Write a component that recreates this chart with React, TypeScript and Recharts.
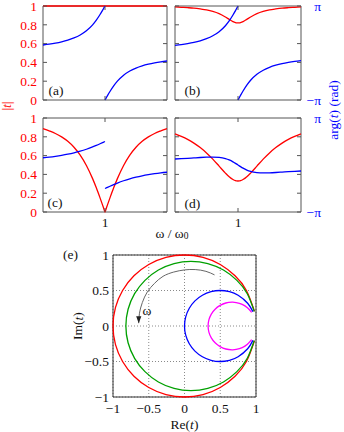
import React from 'react';
import { LineChart, Line, XAxis, YAxis, ReferenceArea, CartesianGrid } from 'recharts';

const FONT = '"Liberation Serif", "Times New Roman", serif';
const FS = 13.5;
const RED = '#ff0000';
const BLUE = '#0000ff';
const GREEN = '#00a000';
const MAGENTA = '#ff00ff';
const GRAY = '#666666';
const FRAME = '#555555';
const PI = Math.PI;

// frequency axis, omega / omega0
const omega = [0.9, 0.91, 0.92, 0.93, 0.94, 0.95, 0.96, 0.97, 0.98, 0.986, 0.992, 0.996, 0.998, 1.0,
  1.002, 1.004, 1.008, 1.014, 1.02, 1.03, 1.04, 1.05, 1.06, 1.07, 1.08, 1.09, 1.1];

// |t| per panel
const magA = [1, 1, 1, 1, 1, 1, 1, 1, 1, 1, 1, 1, 1, 1, 1, 1, 1, 1, 1, 1, 1, 1, 1, 1, 1, 1, 1];
const magB = [0.99, 0.986, 0.982, 0.977, 0.969, 0.959, 0.943, 0.919, 0.883, 0.858, 0.834, 0.824, 0.821, 0.82,
  0.821, 0.824, 0.834, 0.858, 0.883, 0.919, 0.943, 0.959, 0.969, 0.977, 0.982, 0.986, 0.99];
const magC = [0.888, 0.863, 0.835, 0.799, 0.752, 0.689, 0.605, 0.495, 0.355, 0.257, 0.15, 0.076, 0.038, 0,
  0.038, 0.076, 0.15, 0.257, 0.355, 0.495, 0.605, 0.689, 0.752, 0.799, 0.835, 0.863, 0.888];
const magD = [0.832, 0.805, 0.773, 0.733, 0.685, 0.628, 0.562, 0.488, 0.414, 0.375, 0.346, 0.334, 0.331, 0.33,
  0.331, 0.334, 0.346, 0.375, 0.414, 0.488, 0.562, 0.628, 0.685, 0.733, 0.773, 0.805, 0.832];

// arg(t) in rad: branch below resonance, branch above resonance
const phaseALeft = [0.536, 0.592, 0.661, 0.748, 0.859, 1.005, 1.204, 1.483, 1.882, 2.199, 2.575, 2.852, 2.996, 3.1415];
const phaseARight = [-3.1415, -2.996, -2.852, -2.575, -2.199, -1.882, -1.483, -1.204, -1.005, -0.859, -0.748, -0.661, -0.592, -0.536];
const phaseBLeft = [0.509, 0.562, 0.628, 0.71, 0.817, 0.957, 1.15, 1.424, 1.824, 2.147, 2.54, 2.833, 2.987, 3.1415];
const phaseBRight = [-3.1415, -2.987, -2.833, -2.54, -2.147, -1.824, -1.424, -1.15, -0.957, -0.817, -0.71, -0.628, -0.562, -0.509];
const phaseCLeft = [0.485, 0.529, 0.582, 0.645, 0.72, 0.811, 0.921, 1.053, 1.208, 1.311, 1.42, 1.495, 1.533, 1.571];
const phaseCRight = [-1.571, -1.533, -1.495, -1.42, -1.311, -1.208, -1.053, -0.921, -0.811, -0.72, -0.645, -0.582, -0.529, -0.485];
const phaseDLeft = [0.4, 0.422, 0.446, 0.474, 0.501, 0.521, 0.528, 0.505, 0.426, 0.338, 0.212, 0.11, 0.056, 0];
const phaseDRight = [0, -0.056, -0.11, -0.212, -0.338, -0.426, -0.505, -0.528, -0.521, -0.501, -0.474, -0.446, -0.422, -0.4];

const magTicks = [0, 0.2, 0.4, 0.6, 0.8, 1];
const magTickLabels = ['0', '0.2', '0.4', '0.6', '0.8', '1'];
const phaseTicks = [-PI, PI];
const phaseTickLabels = ['\u2212\u03c0', '\u03c0'];
const omegaTicks = [1];
const omegaTickLabels = ['1'];

// complex plane curves (Re, Im)
const redCurve = [[0.978, 0.208], [0.866, 0.5], [0.707, 0.707], [0.5, 0.866], [0.259, 0.966], [0, 1], [-0.259, 0.966],
  [-0.5, 0.866], [-0.707, 0.707], [-0.866, 0.5], [-0.966, 0.259], [-1, 0], [-0.966, -0.259], [-0.866, -0.5],
  [-0.707, -0.707], [-0.5, -0.866], [-0.259, -0.966], [0, -1], [0.259, -0.966], [0.5, -0.866], [0.707, -0.707],
  [0.866, -0.5], [0.978, -0.208]];
const greenCurve = [[0.976, 0.205], [0.878, 0.455], [0.733, 0.643], [0.545, 0.788], [0.326, 0.879], [0.09, 0.91],
  [-0.146, 0.879], [-0.365, 0.788], [-0.553, 0.643], [-0.698, 0.455], [-0.789, 0.236], [-0.82, 0], [-0.789, -0.236],
  [-0.698, -0.455], [-0.553, -0.643], [-0.365, -0.788], [-0.146, -0.879], [0.09, -0.91], [0.326, -0.879],
  [0.545, -0.788], [0.733, -0.643], [0.878, -0.455], [0.976, -0.205]];
const blueCurve = [[0.957, 0.203], [0.883, 0.321], [0.75, 0.433], [0.629, 0.483], [0.5, 0.5], [0.371, 0.483],
  [0.25, 0.433], [0.146, 0.354], [0.067, 0.25], [0.017, 0.129], [0, 0], [0.017, -0.129], [0.067, -0.25],
  [0.146, -0.354], [0.25, -0.433], [0.371, -0.483], [0.5, -0.5], [0.629, -0.483], [0.75, -0.433], [0.883, -0.321],
  [0.957, -0.203]];
const magentaCurve = [[0.939, 0.192], [0.88, 0.257], [0.807, 0.304], [0.723, 0.33], [0.665, 0.335], [0.578, 0.324],
  [0.498, 0.29], [0.428, 0.237], [0.375, 0.168], [0.341, 0.087], [0.33, 0], [0.341, -0.087], [0.375, -0.168],
  [0.428, -0.237], [0.498, -0.29], [0.578, -0.324], [0.665, -0.335], [0.723, -0.33], [0.807, -0.304],
  [0.88, -0.257], [0.939, -0.192]];
const arrowCurve = [[0.42, 0.72], [0.3, 0.77], [0.15, 0.795], [0, 0.79], [-0.15, 0.76], [-0.3, 0.7], [-0.42, 0.6],
  [-0.52, 0.48], [-0.59, 0.33], [-0.63, 0.18], [-0.64, 0.04]];
const complexTicks = [-1, -0.5, 0, 0.5, 1];

function buildRows(mag: number[], pL: number[], pR: number[]) {
  const mid = pL.length - 1;
  return omega.map((w, i) => ({
    w,
    mag: mag[i],
    pl: i <= mid ? pL[i] : null,
    pr: i >= mid ? pR[i - mid] : null,
  }));
}

const toPts = (c: number[][]) => c.map(([x, y]) => ({ x, y }));

type PanelProps = {
  left: number; top: number; width: number; height: number;
  margin: { top: number; right: number; bottom: number; left: number };
  rows: any[]; showLeft: boolean; showRight: boolean; showBottom: boolean;
};

function Panel({ left, top, width, height, margin, rows, showLeft, showRight, showBottom }: PanelProps) {
  const leftW = showLeft ? 43 : 3;
  const rightW = showRight ? 43 : 0;
  const xH = showBottom ? 20 : 15;
  const plotW = width - margin.left - margin.right - leftW - rightW;
  const plotH = height - margin.top - margin.bottom - xH;
  const lm = showLeft ? 6 : 0;
  const bm = 5;

  const leftTick = (p: any) => {
    const e = p.x + lm;
    const idx = magTicks.indexOf(p.payload.value);
    return (
      <g>
        <line x1={e} x2={e + 4} y1={p.y} y2={p.y} stroke={FRAME} strokeWidth={1} />
        <line x1={e + plotW - 4} x2={e + plotW} y1={p.y} y2={p.y} stroke={FRAME} strokeWidth={1} />
        {showLeft && (
          <text x={p.x} y={p.y} dy="0.35em" textAnchor="end" fill={RED} fontSize={FS} fontFamily={FONT}>
            {magTickLabels[idx]}
          </text>
        )}
      </g>
    );
  };
  const bottomTick = (p: any) => {
    const e = p.y - bm;
    const idx = omegaTicks.indexOf(p.payload.value);
    return (
      <g>
        <line x1={p.x} x2={p.x} y1={e} y2={e - 4} stroke={FRAME} strokeWidth={1} />
        <line x1={p.x} x2={p.x} y1={e - plotH} y2={e - plotH + 4} stroke={FRAME} strokeWidth={1} />
        {showBottom && (
          <text x={p.x} y={p.y} dy="0.71em" textAnchor="middle" fill="#111" fontSize={FS} fontFamily={FONT}>
            {omegaTickLabels[idx]}
          </text>
        )}
      </g>
    );
  };
  const phaseTick = (p: any) => {
    const idx = phaseTicks.indexOf(p.payload.value);
    return (
      <text x={p.x + 20} y={p.y} dy="0.35em" textAnchor="end" fill={BLUE} fontSize={FS} fontFamily={FONT}>
        {phaseTickLabels[idx]}
      </text>
    );
  };

  return (
    <div style={{ position: 'absolute', left, top, width, height }}>
      <LineChart width={width} height={height} data={rows} margin={margin}>
        <ReferenceArea xAxisId="b" yAxisId="l" x1={0.9} x2={1.1} y1={0} y2={1} fill="none" fillOpacity={0}
          stroke={FRAME} strokeWidth={1} />
        <XAxis xAxisId="b" dataKey="w" type="number" domain={[0.9, 1.1]} ticks={omegaTicks} height={xH}
          tickSize={0} tickMargin={bm} tickLine={false} axisLine={false} tick={bottomTick} interval={0} />
        <YAxis yAxisId="l" type="number" domain={[0, 1]} ticks={magTicks} width={leftW} tickSize={0}
          tickMargin={lm} tickLine={false} axisLine={false} tick={leftTick} interval={0} />
        <YAxis yAxisId="p" orientation="right" type="number" domain={[-PI, PI]} ticks={phaseTicks}
          width={rightW} hide={!showRight} tickSize={0} tickMargin={0} tickLine={false} axisLine={false}
          tick={phaseTick} interval={0} />
        <Line xAxisId="b" yAxisId="l" dataKey="mag" type="monotone" stroke={RED} strokeWidth={1.3} dot={false}
          isAnimationActive={false} />
        <Line xAxisId="b" yAxisId="p" dataKey="pl" type="monotone" stroke={BLUE} strokeWidth={1.3} dot={false}
          isAnimationActive={false} connectNulls={false} />
        <Line xAxisId="b" yAxisId="p" dataKey="pr" type="monotone" stroke={BLUE} strokeWidth={1.3} dot={false}
          isAnimationActive={false} connectNulls={false} />
      </LineChart>
    </div>
  );
}

const fmtC = (v: number) => (v < 0 ? '\u2212' + String(-v) : String(v));

function ComplexPanel() {
  const last = arrowCurve.length - 1;
  const arrowDot = (p: any) => {
    if (p.index !== last) return <g key={'d' + p.index} />;
    const { cx, cy } = p;
    return (
      <path key="arrow" d={`M${cx},${cy} L${cx - 2.6},${cy - 7} L${cx + 2.6},${cy - 7} Z`} fill="#222" stroke="none" />
    );
  };
  const tickStyle = { fill: '#111', fontSize: FS, fontFamily: FONT };
  return (
    <div style={{ position: 'absolute', left: 0, top: 240, width: 344, height: 192 }}>
      <LineChart width={344} height={192} margin={{ top: 15, right: 88, bottom: 5, left: 0 }}>
        <CartesianGrid stroke="#8a8a8a" strokeDasharray="1 2" />
        <XAxis dataKey="x" type="number" domain={[-1, 1]} ticks={complexTicks} tickFormatter={fmtC} height={30}
          tickSize={0} tickMargin={6} tickLine={false} axisLine={false} tick={tickStyle} interval={0} />
        <YAxis type="number" domain={[-1, 1]} ticks={complexTicks} tickFormatter={fmtC} width={113}
          tickSize={0} tickMargin={4} tickLine={false} axisLine={false} tick={tickStyle} interval={0} />
        <ReferenceArea x1={-1} x2={1} y1={-1} y2={1} fill="none" fillOpacity={0} stroke="#333" strokeWidth={1} />
        <Line data={toPts(redCurve)} dataKey="y" type="natural" stroke={RED} strokeWidth={1.3} dot={false}
          isAnimationActive={false} />
        <Line data={toPts(greenCurve)} dataKey="y" type="natural" stroke={GREEN} strokeWidth={1.3} dot={false}
          isAnimationActive={false} />
        <Line data={toPts(blueCurve)} dataKey="y" type="natural" stroke={BLUE} strokeWidth={1.3} dot={false}
          isAnimationActive={false} />
        <Line data={toPts(magentaCurve)} dataKey="y" type="natural" stroke={MAGENTA} strokeWidth={1.3} dot={false}
          isAnimationActive={false} />
        <Line data={toPts(arrowCurve)} dataKey="y" type="natural" stroke={GRAY} strokeWidth={1} dot={arrowDot}
          isAnimationActive={false} />
      </LineChart>
    </div>
  );
}

export default function App() {
  const t = { fontFamily: FONT, fontSize: FS };
  return (
    <div style={{ position: 'absolute', left: 0, top: 0, width: 344, height: 432, background: '#fff', overflow: 'hidden' }}>
      <Panel left={0} top={0} width={200} height={115} margin={{ top: 6, right: 33, bottom: 0, left: 0 }}
        rows={buildRows(magA, phaseALeft, phaseARight)} showLeft={true} showRight={false} showBottom={false} />
      <Panel left={172} top={0} width={172} height={115} margin={{ top: 6, right: 0, bottom: 0, left: 0 }}
        rows={buildRows(magB, phaseBLeft, phaseBRight)} showLeft={false} showRight={true} showBottom={false} />
      <Panel left={0} top={110} width={200} height={130} margin={{ top: 8, right: 33, bottom: 8, left: 0 }}
        rows={buildRows(magC, phaseCLeft, phaseCRight)} showLeft={true} showRight={false} showBottom={true} />
      <Panel left={172} top={110} width={172} height={130} margin={{ top: 8, right: 0, bottom: 8, left: 0 }}
        rows={buildRows(magD, phaseDLeft, phaseDRight)} showLeft={false} showRight={true} showBottom={true} />
      <ComplexPanel />
      <svg width={344} height={432} style={{ position: 'absolute', left: 0, top: 0, pointerEvents: 'none' }}>
        <text {...t} x={6} y={106} fill={RED} textAnchor="middle" dominantBaseline="central" transform="rotate(-90 6 106)">
          |<tspan fontStyle="italic">t</tspan>|
        </text>
        <text {...t} x={333} y={110} fill={BLUE} textAnchor="middle" dominantBaseline="central" transform="rotate(-90 333 110)">
          arg(<tspan fontStyle="italic">t</tspan>) (rad)
        </text>
        <text {...t} x={48.5} y={90} fill="#111" dominantBaseline="central">(a)</text>
        <text {...t} x={184.5} y={90} fill="#111" dominantBaseline="central">(b)</text>
        <text {...t} x={47.5} y={202} fill="#111" dominantBaseline="central">(c)</text>
        <text {...t} x={184.5} y={203} fill="#111" dominantBaseline="central">(d)</text>
        <text {...t} x={63} y={254} fill="#111" dominantBaseline="central">(e)</text>
        <text {...t} x={172} y={233} fill="#111" textAnchor="middle" dominantBaseline="central">
          ω / ω<tspan fontSize={9.5} dy={3}>0</tspan>
        </text>
        <text {...t} x={147} y={310} fill="#111" textAnchor="middle" dominantBaseline="central">ω</text>
        <text {...t} x={77.5} y={326} fill="#111" textAnchor="middle" dominantBaseline="central" transform="rotate(-90 77.5 326)">
          Im(<tspan fontStyle="italic">t</tspan>)
        </text>
        <text {...t} x={184.5} y={424} fill="#111" textAnchor="middle" dominantBaseline="central">
          Re(<tspan fontStyle="italic">t</tspan>)
        </text>
      </svg>
    </div>
  );
}
